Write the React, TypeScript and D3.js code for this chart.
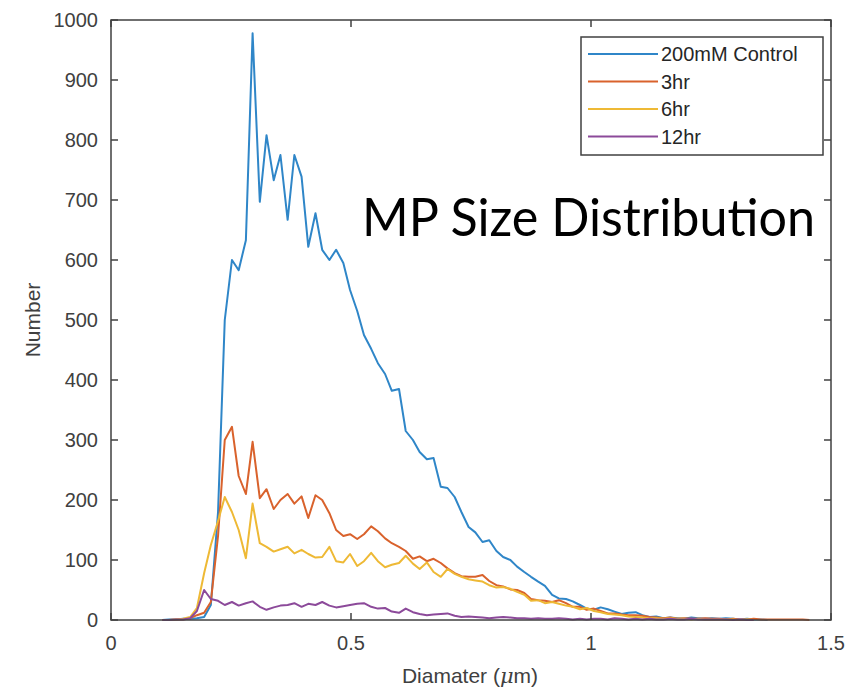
import React, { useRef, useEffect } from 'react';
import * as d3 from 'd3';

// tamanho fixo da figura
const width = 848;
const height = 692;
const margin = { top: 20, right: 17, bottom: 72, left: 111 };

// diâmetro de cada bin (µm)
const diameter = [
  0.107, 0.121, 0.136, 0.150, 0.165, 0.179, 0.194, 0.208, 0.223, 0.237,
  0.252, 0.266, 0.281, 0.295, 0.310, 0.324, 0.339, 0.353, 0.368, 0.382,
  0.397, 0.411, 0.426, 0.440, 0.455, 0.469, 0.484, 0.498, 0.513, 0.527,
  0.542, 0.556, 0.571, 0.585, 0.600, 0.614, 0.629, 0.643, 0.658, 0.672,
  0.687, 0.701, 0.716, 0.730, 0.745, 0.759, 0.774, 0.788, 0.803, 0.817,
  0.832, 0.846, 0.861, 0.875, 0.890, 0.904, 0.919, 0.933, 0.948, 0.962,
  0.977, 0.991, 1.006, 1.020, 1.035, 1.049, 1.064, 1.078, 1.093, 1.107,
  1.122, 1.136, 1.151, 1.165, 1.180, 1.194, 1.209, 1.223, 1.238, 1.252,
  1.267, 1.281, 1.296, 1.310, 1.325, 1.339, 1.354, 1.368, 1.383, 1.397,
  1.412, 1.426, 1.441, 1.455,
];

const control = [
  0, 1, 1, 2, 2, 3, 5, 25, 180, 500,
  600, 583, 633, 978, 697, 808, 733, 775, 667, 775,
  739, 622, 678, 617, 600, 617, 595, 550, 515, 475,
  452, 428, 410, 382, 385, 315, 300, 280, 268, 270,
  222, 220, 205, 180, 155, 146, 130, 133, 115, 105,
  100, 89, 80, 72, 64, 57, 42, 36, 35, 31,
  25, 19, 17, 21, 18, 14, 10, 12, 13, 8,
  5, 6, 3, 4, 3, 2, 4, 3, 2, 3,
  2, 3, 2, 1, 2, 1, 1, 0,
];

const hr3 = [
  0, 0, 1, 1, 3, 8, 12, 30, 140, 300,
  322, 240, 210, 297, 203, 218, 185, 200, 210, 194,
  206, 170, 208, 200, 178, 150, 140, 143, 135, 143,
  156, 148, 136, 128, 122, 115, 102, 106, 98, 102,
  95, 86, 78, 73, 72, 72, 75, 65, 58, 56,
  51, 50, 45, 35, 33, 32, 30, 33, 28, 22,
  22, 17, 19, 15, 11, 11, 9, 8, 8, 7,
  5, 4, 3, 4, 2, 3, 2, 2, 3, 2,
  2, 1, 2, 1, 1, 2, 1, 1, 1, 1,
  1, 1, 1, 0,
];

const hr6 = [
  0, 0, 1, 2, 5, 20, 78, 125, 165, 205,
  180, 150, 103, 194, 128, 122, 114, 118, 122, 111,
  117, 110, 104, 105, 122, 98, 96, 110, 90, 98,
  112, 98, 88, 92, 95, 107, 94, 85, 96, 80,
  72, 85, 77, 72, 68, 66, 64, 58, 54, 55,
  52, 47, 42, 32, 33, 28, 30, 27, 24, 22,
  18, 20, 15, 13, 10, 9, 8, 6, 5, 4,
  3, 3, 2, 3, 2, 2, 1, 2, 1, 1,
  1, 1, 1, 0, 1, 0,
];

const hr12 = [
  0, 0, 1, 1, 3, 15, 50, 35, 32, 25,
  30, 24, 28, 31, 22, 17, 21, 24, 25, 28,
  22, 27, 25, 30, 24, 21, 23, 25, 27, 28,
  22, 19, 20, 14, 12, 19, 13, 10, 8, 9,
  10, 11, 7, 5, 6, 5, 4, 3, 4, 5,
  4, 3, 3, 2, 3, 2, 2, 3, 2, 1,
  2, 1, 2, 2, 1, 3, 2, 1, 2, 1,
  2, 1, 1, 2, 1, 1, 2, 1, 1, 1,
  1, 1, 0, 1, 0, 0,
];

const seriesNames = ['200mM Control', '3hr', '6hr', '12hr'];
const seriesValues = [control, hr3, hr6, hr12];
const seriesColors = ['#2f86c8', '#d9622c', '#eeb935', '#8c4a9a'];

const xTicks = [0, 0.5, 1, 1.5];
const yTicks = [0, 100, 200, 300, 400, 500, 600, 700, 800, 900, 1000];

const axisColor = '#404040';
const font = '"Liberation Sans", Arial, sans-serif';

export default function App() {
  const svgRef = useRef<SVGSVGElement | null>(null);

  useEffect(() => {
    if (!svgRef.current) return;
    const svg = d3.select(svgRef.current);
    svg.selectAll('*').remove();

    const x = d3.scaleLinear().domain([0, 1.5]).range([margin.left, width - margin.right]);
    const y = d3.scaleLinear().domain([0, 1000]).range([height - margin.bottom, margin.top]);
    const [x0, x1] = x.range();
    const [y0, y1] = y.range();

    svg.append('rect').attr('width', width).attr('height', height).attr('fill', '#fff');

    // linhas das séries
    const line = d3.line<number>()
      .x((_, i) => x(diameter[i]))
      .y(d => y(d));

    seriesValues.forEach((vals, k) => {
      svg.append('path')
        .datum(vals)
        .attr('d', line)
        .attr('fill', 'none')
        .attr('stroke', seriesColors[k])
        .attr('stroke-width', 2)
        .attr('stroke-linejoin', 'round');
    });

    // caixa dos eixos
    svg.append('rect')
      .attr('x', x0).attr('y', y1)
      .attr('width', x1 - x0).attr('height', y0 - y1)
      .attr('fill', 'none')
      .attr('stroke', axisColor)
      .attr('stroke-width', 1.5);

    // ticks (para dentro, nos quatro lados)
    const tl = 7;
    xTicks.forEach(t => {
      svg.append('line').attr('x1', x(t)).attr('x2', x(t)).attr('y1', y0).attr('y2', y0 - tl)
        .attr('stroke', axisColor).attr('stroke-width', 1.5);
      svg.append('line').attr('x1', x(t)).attr('x2', x(t)).attr('y1', y1).attr('y2', y1 + tl)
        .attr('stroke', axisColor).attr('stroke-width', 1.5);
      svg.append('text')
        .attr('x', x(t)).attr('y', y0 + 30)
        .attr('text-anchor', 'middle')
        .style('font-family', font).style('font-size', '20px').style('fill', axisColor)
        .text(t);
    });

    yTicks.forEach(t => {
      svg.append('line').attr('x1', x0).attr('x2', x0 + tl).attr('y1', y(t)).attr('y2', y(t))
        .attr('stroke', axisColor).attr('stroke-width', 1.5);
      svg.append('line').attr('x1', x1).attr('x2', x1 - tl).attr('y1', y(t)).attr('y2', y(t))
        .attr('stroke', axisColor).attr('stroke-width', 1.5);
      svg.append('text')
        .attr('x', x0 - 13).attr('y', y(t)).attr('dy', '0.36em')
        .attr('text-anchor', 'end')
        .style('font-family', font).style('font-size', '20px').style('fill', axisColor)
        .text(t);
    });

    // rótulos dos eixos
    const xl = svg.append('text')
      .attr('x', (x0 + x1) / 2 - 1).attr('y', 683)
      .attr('text-anchor', 'middle')
      .style('font-family', font).style('font-size', '21px').style('fill', axisColor);
    xl.append('tspan').text('Diamater (');
    xl.append('tspan').style('font-style', 'italic').style('font-family', '"DejaVu Serif", serif').text('μ');
    xl.append('tspan').text('m)');

    svg.append('text')
      .attr('transform', `translate(40,${(y0 + y1) / 2}) rotate(-90)`)
      .attr('text-anchor', 'middle')
      .style('font-family', font).style('font-size', '21px').style('fill', axisColor)
      .text('Number');

    // legenda
    const lg = svg.append('g').attr('transform', 'translate(581,37)');
    lg.append('rect').attr('width', 242).attr('height', 118)
      .attr('fill', '#fff').attr('stroke', axisColor).attr('stroke-width', 1.5);
    seriesNames.forEach((name, k) => {
      const ly = 17 + k * 27.5;
      lg.append('line').attr('x1', 7).attr('x2', 77).attr('y1', ly).attr('y2', ly)
        .attr('stroke', seriesColors[k]).attr('stroke-width', 2);
      lg.append('text').attr('x', 80).attr('y', ly).attr('dy', '0.36em')
        .style('font-family', font).style('font-size', '20px').style('fill', '#262626')
        .text(name);
    });

    // título dentro do gráfico
    svg.append('text')
      .attr('x', 362).attr('y', 236)
      .attr('textLength', 453).attr('lengthAdjust', 'spacingAndGlyphs')
      .style('font-family', 'Lato, "Open Sans", sans-serif')
      .style('font-size', '52px').style('fill', '#000')
      .text('MP Size Distribution');
  }, []);

  return (
    <div style={{ position: 'absolute', left: 0, top: 0 }}>
      <svg ref={svgRef} width={width} height={height}></svg>
    </div>
  );
}
